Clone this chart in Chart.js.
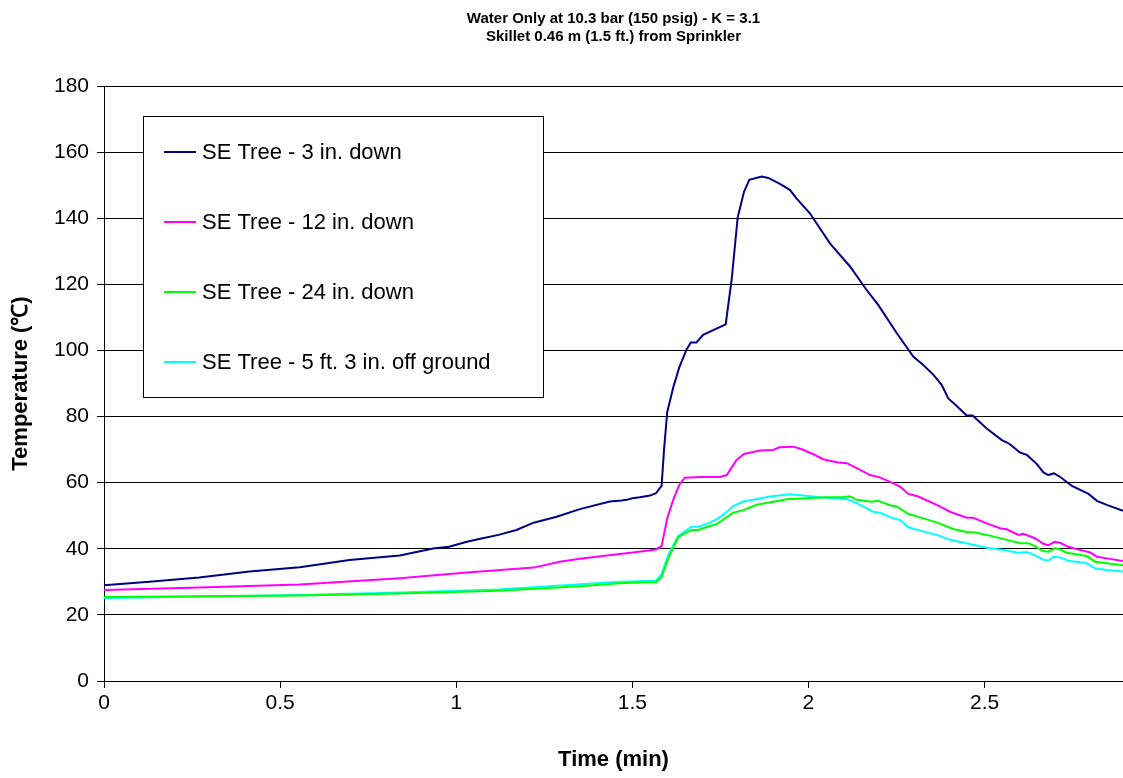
<!DOCTYPE html>
<html>
<head>
<meta charset="utf-8">
<script src="https://cdn.jsdelivr.net/npm/chart.js@4.4.1/dist/chart.umd.min.js"></script>
<style>
  html, body { margin: 0; padding: 0; background: #fff; overflow: hidden; }
  canvas { display: block; }
</style>
</head>
<body>
<canvas id="chart" width="1123" height="778"></canvas>
<script>
const titleLines = ['Water Only at 10.3 bar (150 psig) - K = 3.1', 'Skillet 0.46 m (1.5 ft.) from Sprinkler'];
const seriesNames = ['SE Tree - 3 in. down', 'SE Tree - 12 in. down', 'SE Tree - 24 in. down', 'SE Tree - 5 ft. 3 in. off ground'];
const seriesColors = ['#000080', '#FF00FF', '#00FF00', '#00FFFF'];
const xTicks = [0, 0.5, 1, 1.5, 2, 2.5];
const yTicks = [0, 20, 40, 60, 80, 100, 120, 140, 160, 180];

// time (min) / temperature (C)
const t3in = [0, 0.129, 0.27, 0.413, 0.556, 0.697, 0.84, 0.934, 0.98, 1.03, 1.075, 1.12, 1.171, 1.22, 1.285, 1.351, 1.436, 1.469, 1.484, 1.5, 1.521, 1.55, 1.567, 1.583, 1.59, 1.599, 1.616, 1.633, 1.654, 1.666, 1.682, 1.701, 1.765, 1.782, 1.799, 1.817, 1.832, 1.867, 1.886, 1.919, 1.947, 1.966, 2.004, 2.061, 2.118, 2.165, 2.198, 2.251, 2.298, 2.326, 2.355, 2.378, 2.397, 2.421, 2.449, 2.466, 2.506, 2.549, 2.568, 2.601, 2.62, 2.648, 2.667, 2.681, 2.697, 2.714, 2.748, 2.795, 2.819, 2.847, 2.893];
const v3in = [29.0, 30.0, 31.3, 33.1, 34.4, 36.6, 38.0, 40.1, 40.6, 42.1, 43.2, 44.2, 45.7, 47.9, 49.7, 52.0, 54.3, 54.6, 54.8, 55.3, 55.6, 56.1, 56.8, 59.0, 70.0, 81.3, 88.8, 94.8, 100.3, 102.4, 102.4, 104.7, 107.9, 121.5, 140.2, 148.0, 151.6, 152.6, 152.2, 150.4, 148.6, 146.0, 141.5, 132.4, 125.4, 118.3, 113.8, 105.2, 98.1, 95.6, 92.6, 89.6, 85.5, 83.2, 80.3, 80.3, 76.4, 72.9, 71.9, 69.1, 68.4, 65.7, 63.1, 62.3, 62.8, 61.8, 59.0, 56.6, 54.5, 53.3, 51.5];

const t12in = [0, 0.27, 0.556, 0.84, 1.03, 1.22, 1.294, 1.351, 1.464, 1.502, 1.54, 1.567, 1.583, 1.599, 1.616, 1.633, 1.649, 1.692, 1.749, 1.768, 1.796, 1.817, 1.862, 1.9, 1.917, 1.957, 1.981, 2.014, 2.042, 2.08, 2.109, 2.137, 2.175, 2.203, 2.241, 2.26, 2.284, 2.312, 2.364, 2.402, 2.449, 2.468, 2.506, 2.544, 2.563, 2.596, 2.61, 2.643, 2.667, 2.681, 2.7, 2.714, 2.738, 2.762, 2.8, 2.819, 2.847, 2.893];
const v12in = [27.5, 28.3, 29.2, 31.1, 32.8, 34.3, 36.1, 37.0, 38.4, 38.9, 39.4, 39.8, 40.8, 49.2, 54.8, 59.3, 61.5, 61.7, 61.7, 62.3, 66.9, 68.7, 69.7, 69.9, 70.7, 70.9, 70.1, 68.6, 67.1, 66.2, 65.9, 64.4, 62.3, 61.6, 59.8, 58.8, 56.6, 55.8, 53.3, 51.2, 49.4, 49.4, 47.7, 46.2, 45.9, 44.2, 44.5, 43.2, 41.5, 41.1, 42.1, 41.8, 40.6, 39.9, 38.9, 37.6, 37.1, 36.3];

const t24in = [0, 0.556, 0.84, 1.12, 1.351, 1.464, 1.521, 1.567, 1.583, 1.602, 1.63, 1.668, 1.687, 1.72, 1.739, 1.786, 1.815, 1.853, 1.938, 1.995, 2.052, 2.099, 2.116, 2.137, 2.179, 2.198, 2.236, 2.251, 2.284, 2.317, 2.364, 2.411, 2.449, 2.473, 2.506, 2.553, 2.601, 2.624, 2.643, 2.665, 2.681, 2.7, 2.714, 2.733, 2.79, 2.814, 2.847, 2.893];
const v24in = [25.4, 25.9, 26.5, 27.3, 28.7, 29.6, 29.8, 29.9, 31.4, 37.1, 43.5, 45.7, 45.7, 46.9, 47.4, 50.9, 51.7, 53.3, 55.0, 55.3, 55.6, 55.6, 55.9, 54.8, 54.2, 54.5, 53.0, 52.8, 50.5, 49.5, 48.0, 46.0, 45.1, 44.9, 44.2, 43.0, 41.7, 41.7, 40.8, 39.3, 39.1, 40.2, 39.8, 38.8, 37.8, 36.1, 35.6, 35.0];

const t5ft = [0, 0.556, 0.84, 1.12, 1.351, 1.464, 1.567, 1.583, 1.602, 1.63, 1.668, 1.687, 1.715, 1.739, 1.763, 1.786, 1.815, 1.843, 1.891, 1.947, 1.985, 2.033, 2.109, 2.137, 2.184, 2.203, 2.241, 2.26, 2.284, 2.317, 2.364, 2.402, 2.449, 2.506, 2.553, 2.596, 2.62, 2.643, 2.665, 2.681, 2.695, 2.714, 2.738, 2.79, 2.814, 2.847, 2.893];
const v5ft = [25.1, 26.0, 26.8, 27.7, 29.3, 30.0, 30.3, 32.4, 38.1, 43.9, 46.7, 46.7, 47.7, 48.9, 50.7, 52.9, 54.3, 54.8, 55.8, 56.5, 56.1, 55.6, 55.0, 53.8, 51.2, 50.9, 49.2, 48.7, 46.5, 45.5, 44.2, 42.7, 41.7, 40.3, 39.6, 38.8, 39.0, 38.1, 36.8, 36.4, 37.6, 37.4, 36.4, 35.6, 34.1, 33.6, 33.1];

const FONT = '"Liberation Sans", Arial, sans-serif';
Chart.defaults.font.family = FONT;
Chart.defaults.color = '#000';

function toPoints(ts, vs) {
    return ts.map((t, i) => ({ x: t, y: vs[i] }));
}

const seriesData = [toPoints(t3in, v3in), toPoints(t12in, v12in), toPoints(t24in, v24in), toPoints(t5ft, v5ft)];

// title above the plot and the boxed legend inside it
const overlayPlugin = {
    id: 'overlay',
    afterDraw(chart) {
        const ctx = chart.ctx;
        const area = chart.chartArea;
        ctx.save();
        ctx.fillStyle = '#000';
        ctx.textAlign = 'center';
        ctx.textBaseline = 'middle';
        ctx.font = `bold 15px ${FONT}`;
        titleLines.forEach((line, i) => ctx.fillText(line, (area.left + area.right) / 2, 19 + i * 18));

        const bx = area.left + 39, by = area.top + 30;
        ctx.fillStyle = '#fff';
        ctx.fillRect(bx, by, 400, 281);
        ctx.strokeStyle = '#000';
        ctx.lineWidth = 1;
        ctx.strokeRect(bx + 0.5, by + 0.5, 400, 281);
        ctx.textAlign = 'left';
        ctx.font = `22px ${FONT}`;
        chart.data.datasets.forEach((ds, i) => {
            const y = by + 36 + i * 70;
            ctx.strokeStyle = ds.borderColor;
            ctx.lineWidth = 2;
            ctx.beginPath();
            ctx.moveTo(bx + 21, y);
            ctx.lineTo(bx + 53, y);
            ctx.stroke();
            ctx.fillStyle = '#000';
            ctx.fillText(ds.label, bx + 59, y + 1);
        });
        ctx.restore();
    }
};

new Chart(document.getElementById('chart'), {
    type: 'line',
    data: {
        datasets: seriesNames.map((name, i) => ({
            label: name,
            data: seriesData[i],
            borderColor: seriesColors[i],
            backgroundColor: seriesColors[i],
            borderWidth: 2,
            pointRadius: 0,
            tension: 0,
            fill: false
        }))
    },
    options: {
        responsive: false,
        animation: false,
        layout: { padding: { top: 86, right: 0, bottom: 0, left: 0 } },
        plugins: {
            legend: { display: false },
            tooltip: { enabled: false }
        },
        scales: {
            x: {
                type: 'linear',
                min: 0,
                max: 2.893,
                afterBuildTicks: s => { s.ticks = xTicks.map(v => ({ value: v })); },
                afterFit: s => { s.height = 97; },
                ticks: { font: { size: 21 }, color: '#000', padding: 3, maxRotation: 0, callback: v => String(v) },
                grid: { drawOnChartArea: false, tickLength: 7, color: '#000' },
                border: { color: '#000', width: 1 },
                title: { display: true, text: 'Time (min)', font: { size: 22, weight: 'bold' }, color: '#000', padding: { top: 0, bottom: 5 } }
            },
            y: {
                min: 0,
                max: 180,
                afterBuildTicks: s => { s.ticks = yTicks.map(v => ({ value: v })); },
                afterFit: s => { s.width = 104; },
                ticks: { font: { size: 21 }, color: '#000', padding: 8, callback: v => String(v) },
                grid: { color: '#000', lineWidth: 1, tickLength: 7 },
                border: { color: '#000', width: 1 },
                title: { display: true, text: 'Temperature (℃)', font: { size: 22, weight: 'bold' }, color: '#000', padding: { top: 8, bottom: 0 } }
            }
        }
    },
    plugins: [overlayPlugin]
});
</script>
</body>
</html>
